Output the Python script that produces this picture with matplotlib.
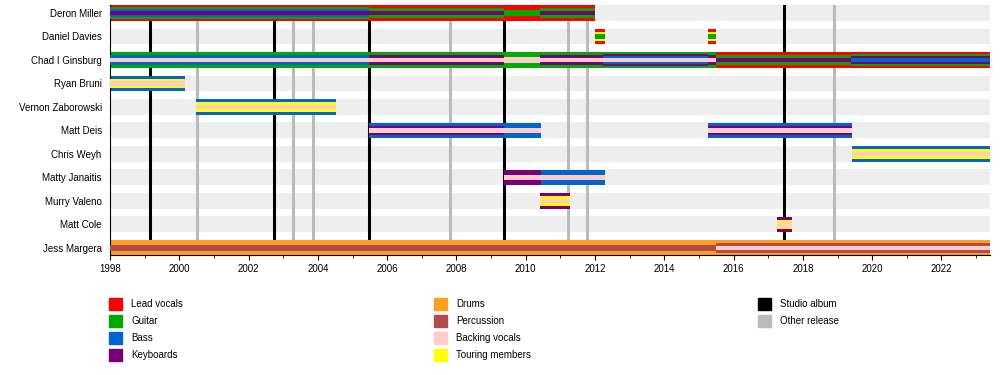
import matplotlib
matplotlib.use("Agg")
import matplotlib.pyplot as plt
from matplotlib.patches import Rectangle
from matplotlib.ticker import MultipleLocator

plt.rcParams['font.family'] = ['Liberation Sans', 'DejaVu Sans']

# members, top to bottom
members = ["Deron Miller", "Daniel Davies", "Chad I Ginsburg", "Ryan Bruni",
           "Vernon Zaborowski", "Matt Deis", "Chris Weyh", "Matty Janaitis",
           "Murry Valeno", "Matt Cole", "Jess Margera"]

END = 2023.4
# role codes: V lead vocals, G guitar, B bass, K keyboards,
#             D drums, P percussion, S backing vocals, T touring
periods = [
    ("Deron Miller", 1998, 2005.48, "VGBK"),
    ("Deron Miller", 2005.48, 2009.37, "VGK"),
    ("Deron Miller", 2009.37, 2010.4, "VG"),
    ("Deron Miller", 2010.4, 2012.0, "VGK"),
    ("Daniel Davies", 2012.0, 2012.28, "VTG"),
    ("Daniel Davies", 2015.25, 2015.5, "VTG"),
    ("Chad I Ginsburg", 1998, 2005.48, "GBS"),
    ("Chad I Ginsburg", 2005.48, 2009.37, "GKS"),
    ("Chad I Ginsburg", 2009.37, 2010.4, "GS"),
    ("Chad I Ginsburg", 2010.4, 2012.22, "GKS"),
    ("Chad I Ginsburg", 2012.22, 2015.25, "GKBS"),
    ("Chad I Ginsburg", 2015.25, 2015.48, "GKS"),
    ("Chad I Ginsburg", 2015.48, 2019.4, "VGK"),
    ("Chad I Ginsburg", 2019.4, END, "VGKB"),
    ("Ryan Bruni", 1998, 2000.16, "BTS"),
    ("Vernon Zaborowski", 2000.48, 2004.51, "BTS"),
    ("Matt Deis", 2005.48, 2009.37, "BKS"),
    ("Matt Deis", 2009.37, 2010.43, "BS"),
    ("Matt Deis", 2015.25, 2019.42, "BKS"),
    ("Chris Weyh", 2019.42, END, "BTS"),
    ("Matty Janaitis", 2009.37, 2010.43, "KS"),
    ("Matty Janaitis", 2010.43, 2012.28, "BS"),
    ("Murry Valeno", 2010.4, 2011.27, "KTS"),
    ("Matt Cole", 2017.24, 2017.69, "KTS"),
    ("Jess Margera", 1998, 2015.48, "DP"),
    ("Jess Margera", 2015.48, END, "DPS"),
]

studio_albums = [1999.16, 2002.73, 2005.48, 2009.37, 2017.45]
other_releases = [2000.52, 2003.29, 2003.86, 2007.80, 2011.22, 2011.77, 2018.89]

role_names = {"V": "Lead vocals", "G": "Guitar", "B": "Bass", "K": "Keyboards",
              "D": "Drums", "P": "Percussion", "S": "Backing vocals",
              "T": "Touring members"}
role_colors = {"V": "#ff0000", "G": "#00aa00", "B": "#0066cc", "K": "#7a0078",
               "D": "#ff9f1f", "P": "#b24c4c", "S": "#ffcccc", "T": "#ffff00"}

# nested stripe heights by number of roles
stripe_h = {1: [1.0], 2: [1.0, 0.35], 3: [1.0, 0.62, 0.3],
            4: [1.0, 0.76, 0.52, 0.26]}

fig = plt.figure(figsize=(10, 3.75), dpi=100)
ax = fig.add_axes([0.11, 1 - 255 / 375, 0.88, 250.5 / 375])

ypos = {m: i for i, m in enumerate(members)}
BAR = 0.66

# background bands
for m in members:
    ax.barh(ypos[m], END - 1998, left=1998, height=0.68, color="#eeeeee",
            zorder=0)

for x in studio_albums:
    ax.axvline(x, color="black", lw=2.2, zorder=1)
for x in other_releases:
    ax.axvline(x, color="#bbbbbb", lw=2.2, zorder=1)

for name, start, end, roles in periods:
    hs = stripe_h[len(roles)]
    for k, r in enumerate(roles):
        ax.barh(ypos[name], end - start, left=start, height=BAR * hs[k],
                color=role_colors[r], zorder=2 + k, linewidth=0)

ax.set_xlim(1998, END)
ax.set_ylim(10.30, -0.362)
ax.set_yticks(range(len(members)))
ax.set_yticklabels(members, fontsize=7)
ax.tick_params(axis="y", length=0, pad=6)
ax.xaxis.set_major_locator(MultipleLocator(2))
ax.xaxis.set_minor_locator(MultipleLocator(1))
ax.tick_params(axis="x", which="major", length=3.5, labelsize=7, pad=3)
ax.tick_params(axis="x", which="minor", length=2)
for s in ["top", "right"]:
    ax.spines[s].set_visible(False)

# legend
legend_cols = [
    ["V", "G", "B", "K"],
    ["D", "P", "S", "T"],
]
col_x = [109, 434, 758]
row_y = [304, 321, 338, 355]
W, H = 1000, 375


def legend_item(cx, cy, color, label):
    fig.patches.append(Rectangle((cx / W, 1 - (cy + 6) / H), 13 / W, 12 / H,
                                 transform=fig.transFigure, color=color))
    fig.text((cx + 22) / W, 1 - cy / H, label, fontsize=7, va="center")


for c, col in enumerate(legend_cols):
    for r, code in enumerate(col):
        legend_item(col_x[c], row_y[r], role_colors[code], role_names[code])
legend_item(col_x[2], row_y[0], "black", "Studio album")
legend_item(col_x[2], row_y[1], "#bbbbbb", "Other release")

fig.savefig("out.png", dpi=100)
